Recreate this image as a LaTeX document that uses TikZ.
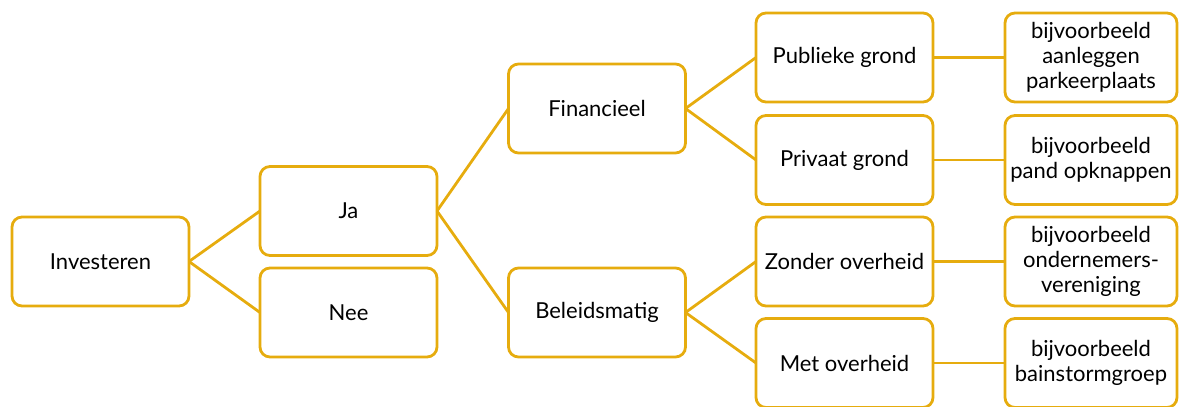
\documentclass[tikz,border=0pt]{standalone}
\usepackage{fontspec}
\setmainfont{Lato}
\definecolor{gold}{RGB}{230,172,14}
\begin{document}
\begin{tikzpicture}[x=1pt,y=-1pt,
  box/.style={draw=gold, line width=2.8pt, rounded corners=10pt, fill=white,
    minimum width=177pt, minimum height=89pt, inner sep=2pt, outer sep=0pt,
    align=center, font=\fontsize{22}{25}\selectfont},
  exbox/.style={box, minimum width=172pt},
  link/.style={draw=gold, line width=2.8pt}]
\useasboundingbox (0,0) rectangle (1179,407);

\node[box] (inv) at (100.5,261.5) {Investeren};
\node[box] (ja)  at (348.5,211)   {Ja};
\node[box] (nee) at (348.5,312.5) {Nee};
\node[box] (fin) at (597,108.5)   {Financieel};
\node[box] (bel) at (597,312.5)   {Beleidsmatig};
\node[box] (pub) at (844.5,57.5)  {Publieke grond};
\node[box] (pri) at (844.5,160)   {Privaat grond};
\node[box] (zon) at (844.5,261.5) {Zonder overheid};
\node[box] (met) at (844.5,363)   {Met overheid};
\node[exbox] (ex1) at (1091,57.5)  {bijvoorbeeld\\aanleggen\\parkeerplaats};
\node[exbox] (ex2) at (1091,160)   {bijvoorbeeld\\pand opknappen};
\node[exbox] (ex3) at (1091,261.5) {bijvoorbeeld\\ondernemers-\\vereniging};
\node[exbox] (ex4) at (1091,363)   {bijvoorbeeld\\bainstormgroep};

\path[link] (inv.east) -- (ja.west);
\path[link] (inv.east) -- (nee.west);
\path[link] (ja.east) -- (fin.west);
\path[link] (ja.east) -- (bel.west);
\path[link] (fin.east) -- (pub.west);
\path[link] (fin.east) -- (pri.west);
\path[link] (bel.east) -- (zon.west);
\path[link] (bel.east) -- (met.west);
\path[link] (pub.east) -- (ex1.west);
\path[link] (pri.east) -- (ex2.west);
\path[link] (zon.east) -- (ex3.west);
\path[link] (met.east) -- (ex4.west);
\end{tikzpicture}
\end{document}
